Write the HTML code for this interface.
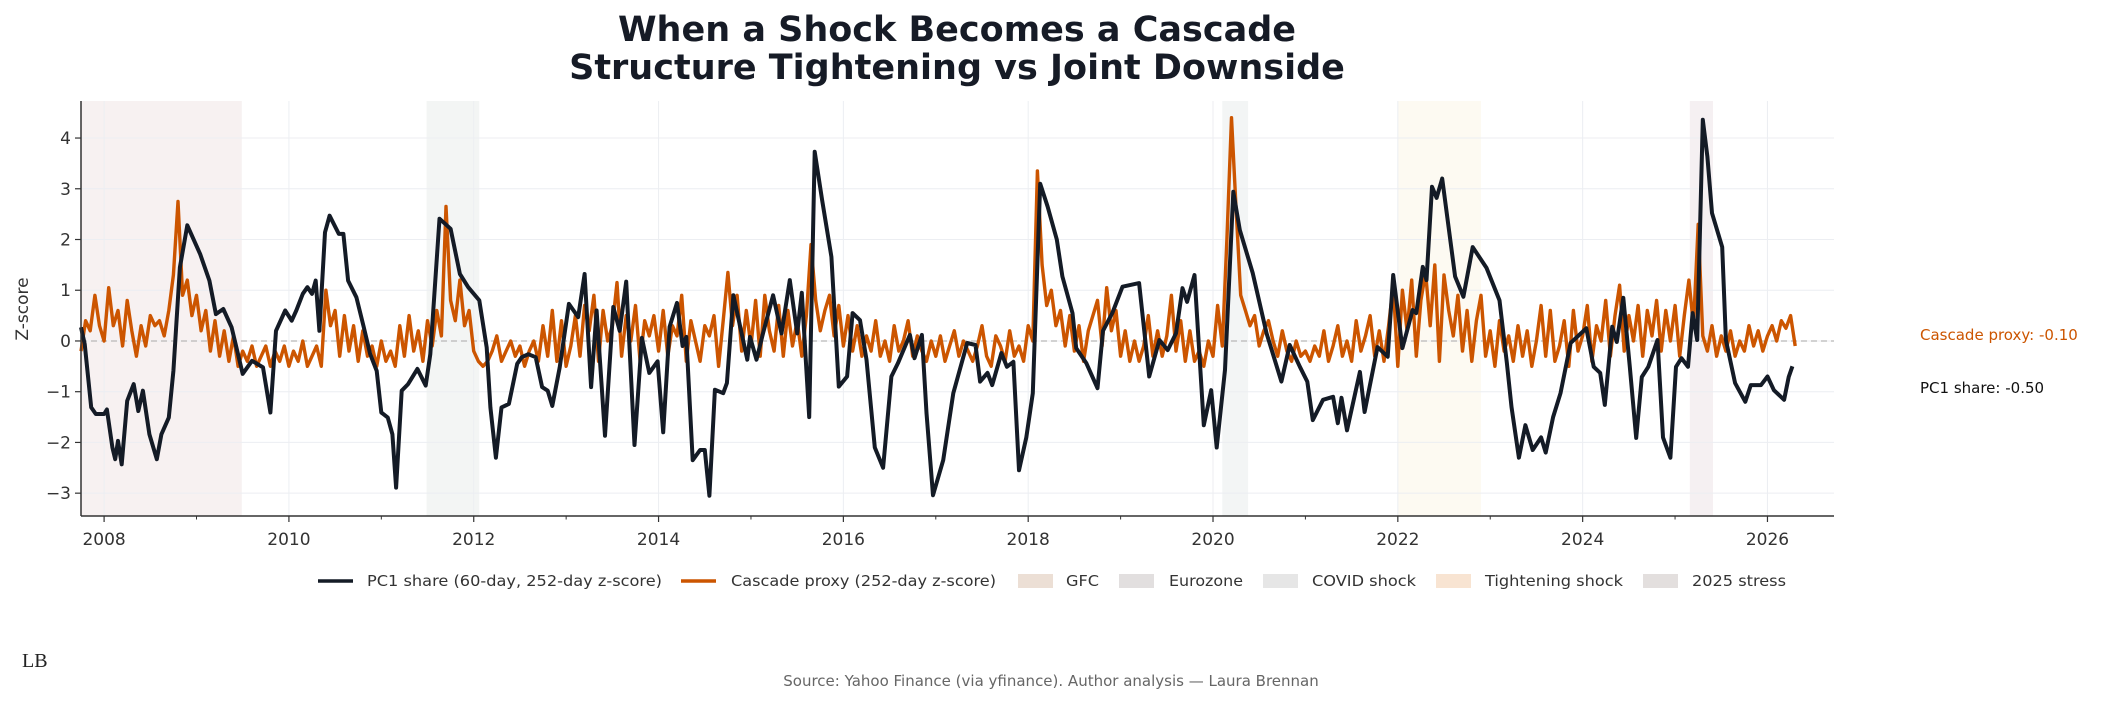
<!DOCTYPE html>
<html><head><meta charset="utf-8">
<style>
html,body{margin:0;padding:0;background:#fff;}
body{width:2103px;height:703px;overflow:hidden;font-family:"DejaVu Sans","Liberation Sans",sans-serif;}
svg text{font-family:"DejaVu Sans","Liberation Sans",sans-serif;}
</style></head>
<body>
<svg id="chart" width="2103" height="703" xmlns="http://www.w3.org/2000/svg">
<text x="957" y="41" text-anchor="middle" font-size="35" font-weight="bold" fill="#161b26">When a Shock Becomes a Cascade</text>
<text x="957" y="79" text-anchor="middle" font-size="35" font-weight="bold" fill="#161b26">Structure Tightening vs Joint Downside</text>
<g id="regions"></g>
<g id="grid"></g>
<g id="series"></g>
<g id="axes"></g>
<text transform="translate(28,309) rotate(-90)" text-anchor="middle" font-size="17" fill="#333">Z-score</text>
<text x="1920" y="340" font-size="15" fill="#cc5500">Cascade proxy: -0.10</text>
<text x="1920" y="393" font-size="15" fill="#111">PC1 share: -0.50</text>
<g id="legend"></g>
<text x="22" y="667" style="font-family:'Liberation Serif',serif;font-size:20px" fill="#222">LB</text>
<text x="1051" y="686" text-anchor="middle" font-size="15" fill="#666">Source: Yahoo Finance (via yfinance). Author analysis — Laura Brennan</text>
</svg>
<script>
const NS="http://www.w3.org/2000/svg";
// ---- data ----
const pc1Years=[2007.75,2007.79,2007.86,2007.91,2008.0,2008.03,2008.09,2008.12,2008.15,2008.19,2008.25,2008.32,2008.37,2008.42,2008.49,2008.57,2008.62,2008.7,2008.75,2008.82,2008.9,2009.04,2009.14,2009.21,2009.29,2009.38,2009.5,2009.6,2009.72,2009.8,2009.86,2009.96,2010.03,2010.08,2010.15,2010.2,2010.25,2010.29,2010.33,2010.39,2010.44,2010.54,2010.59,2010.64,2010.73,2010.81,2010.88,2010.95,2011.0,2011.07,2011.12,2011.16,2011.22,2011.29,2011.39,2011.48,2011.53,2011.63,2011.75,2011.85,2011.94,2012.06,2012.14,2012.18,2012.24,2012.3,2012.38,2012.47,2012.52,2012.59,2012.67,2012.74,2012.8,2012.85,2012.93,2013.03,2013.13,2013.2,2013.27,2013.33,2013.42,2013.51,2013.58,2013.65,2013.74,2013.82,2013.9,2013.99,2014.05,2014.12,2014.2,2014.26,2014.3,2014.37,2014.45,2014.5,2014.55,2014.61,2014.7,2014.74,2014.81,2014.96,2014.99,2015.06,2015.13,2015.24,2015.33,2015.42,2015.5,2015.55,2015.63,2015.69,2015.77,2015.87,2015.95,2016.04,2016.1,2016.18,2016.25,2016.34,2016.43,2016.52,2016.59,2016.72,2016.77,2016.85,2016.9,2016.97,2017.08,2017.19,2017.34,2017.43,2017.48,2017.56,2017.61,2017.71,2017.77,2017.84,2017.9,2017.98,2018.05,2018.13,2018.21,2018.31,2018.37,2018.48,2018.52,2018.63,2018.75,2018.81,2018.91,2019.02,2019.2,2019.31,2019.42,2019.51,2019.6,2019.67,2019.72,2019.8,2019.9,2019.98,2020.04,2020.13,2020.22,2020.29,2020.43,2020.58,2020.74,2020.83,2020.94,2021.02,2021.08,2021.19,2021.3,2021.35,2021.39,2021.45,2021.59,2021.64,2021.78,2021.89,2021.95,2022.05,2022.16,2022.2,2022.27,2022.31,2022.37,2022.42,2022.48,2022.62,2022.71,2022.81,2022.96,2023.1,2023.18,2023.23,2023.31,2023.38,2023.46,2023.55,2023.6,2023.68,2023.76,2023.87,2024.04,2024.12,2024.19,2024.24,2024.32,2024.37,2024.44,2024.51,2024.58,2024.64,2024.71,2024.81,2024.87,2024.95,2025.01,2025.07,2025.14,2025.19,2025.24,2025.3,2025.35,2025.4,2025.51,2025.55,2025.65,2025.76,2025.82,2025.93,2026.0,2026.07,2026.18,2026.23,2026.27];
const pc1Values=[0.27,-0.06,-1.31,-1.44,-1.44,-1.35,-2.1,-2.33,-1.97,-2.43,-1.18,-0.85,-1.38,-0.98,-1.84,-2.33,-1.84,-1.51,-0.59,1.45,2.28,1.71,1.19,0.53,0.63,0.27,-0.65,-0.39,-0.52,-1.41,0.2,0.6,0.4,0.6,0.93,1.06,0.93,1.19,0.2,2.14,2.47,2.11,2.11,1.19,0.86,0.27,-0.26,-0.59,-1.41,-1.51,-1.84,-2.89,-0.98,-0.85,-0.55,-0.88,-0.26,2.41,2.21,1.32,1.06,0.8,-0.13,-1.31,-2.3,-1.31,-1.24,-0.45,-0.32,-0.26,-0.32,-0.91,-0.98,-1.28,-0.52,0.73,0.47,1.32,-0.91,0.6,-1.87,0.67,0.2,1.17,-2.05,0.06,-0.63,-0.4,-1.8,0.28,0.75,-0.1,0.08,-2.35,-2.15,-2.15,-3.05,-0.96,-1.03,-0.83,0.9,-0.37,0.08,-0.37,0.15,0.9,0.15,1.2,0.15,0.95,-1.5,3.73,2.78,1.66,-0.9,-0.7,0.55,0.41,-0.37,-2.1,-2.5,-0.7,-0.44,0.12,-0.34,0.12,-1.42,-3.04,-2.35,-1.03,-0.04,-0.08,-0.8,-0.63,-0.87,-0.24,-0.51,-0.41,-2.55,-1.9,-1.03,3.1,2.65,2.0,1.27,0.55,-0.14,-0.44,-0.93,0.2,0.55,1.07,1.14,-0.7,0.02,-0.18,0.15,1.04,0.77,1.3,-1.66,-0.97,-2.1,-0.57,2.94,2.19,1.34,0.15,-0.8,-0.08,-0.51,-0.8,-1.56,-1.16,-1.1,-1.62,-1.12,-1.76,-0.61,-1.4,-0.12,-0.31,1.3,-0.14,0.61,0.55,1.46,1.2,3.04,2.82,3.2,1.27,0.87,1.85,1.44,0.8,-0.44,-1.3,-2.3,-1.66,-2.15,-1.9,-2.2,-1.5,-1.03,-0.04,0.25,-0.51,-0.63,-1.26,0.28,-0.02,0.85,-0.51,-1.91,-0.71,-0.51,0.02,-1.9,-2.3,-0.51,-0.34,-0.51,0.55,0.02,4.36,3.63,2.52,1.85,0.02,-0.83,-1.2,-0.87,-0.87,-0.7,-0.97,-1.16,-0.71,-0.5];
const cascadeStart=2007.75;
const cascadeStep=0.05;
const cascadeValues=[
-0.2,0.4,0.2,0.9,0.3,
0.0,1.05,0.3,0.6,-0.1,0.8,0.2,-0.3,0.3,-0.1,0.5,0.3,0.4,0.1,0.6,1.3,2.75,0.9,1.2,0.5,
0.9,0.2,0.6,-0.2,0.4,-0.3,0.2,-0.4,0.1,-0.5,-0.2,-0.4,-0.1,-0.5,-0.3,-0.1,-0.5,-0.2,-0.4,-0.1,
-0.5,-0.2,-0.4,0.0,-0.5,-0.3,-0.1,-0.5,1.0,0.3,0.6,-0.3,0.5,-0.2,0.3,-0.4,0.2,-0.3,-0.1,-0.5,
0.0,-0.4,-0.2,-0.5,0.3,-0.3,0.5,-0.2,0.2,-0.4,0.4,-0.1,0.6,0.1,2.65,0.8,0.4,1.2,0.3,0.6,
-0.2,-0.4,-0.5,-0.4,-0.2,0.1,-0.4,-0.2,0.0,-0.3,-0.1,-0.5,-0.2,0.0,-0.4,0.3,-0.3,0.6,-0.4,0.4,
-0.5,-0.1,0.5,-0.3,0.7,0.2,0.9,-0.4,0.6,0.0,0.3,1.15,-0.3,0.5,0.0,0.7,-0.4,0.4,0.1,0.5,
-0.2,0.6,-0.3,0.3,0.1,0.9,-0.4,0.4,0.0,-0.4,0.3,0.1,0.5,-0.5,0.4,1.35,0.3,0.9,-0.2,0.6,
-0.1,0.8,-0.3,0.9,0.2,-0.2,0.7,-0.3,0.6,-0.1,0.4,-0.3,0.5,1.9,0.8,0.2,0.6,0.9,0.1,0.7,
-0.1,0.5,-0.2,0.3,-0.3,0.1,-0.2,0.4,-0.3,0.0,-0.4,0.3,-0.2,0.0,0.4,-0.3,0.1,-0.2,-0.4,0.0,
-0.3,0.1,-0.4,-0.1,0.2,-0.3,0.0,-0.2,-0.4,-0.1,0.3,-0.3,-0.5,0.1,-0.1,-0.4,0.2,-0.3,-0.1,-0.4,
0.3,0.0,3.35,1.5,0.7,1.0,0.3,0.6,-0.1,0.5,-0.2,0.3,-0.4,0.2,0.5,0.8,-0.1,1.05,0.2,0.6,
-0.3,0.2,-0.4,0.0,-0.4,-0.1,0.5,-0.3,0.2,-0.3,0.1,0.9,-0.2,0.4,-0.4,0.2,-0.4,-0.2,-0.5,0.0,
-0.3,0.7,-0.1,2.0,4.4,2.6,0.9,0.6,0.3,0.5,-0.1,0.2,0.4,0.0,-0.3,0.2,-0.2,-0.4,0.0,-0.3,
-0.2,-0.4,-0.1,-0.3,0.2,-0.4,-0.1,0.3,-0.3,0.0,-0.4,0.4,-0.2,0.1,0.5,-0.3,0.2,-0.4,0.3,1.1,
-0.5,1.0,0.2,1.2,-0.3,0.8,1.35,0.3,1.5,-0.4,1.3,0.6,0.1,0.9,-0.2,0.6,-0.4,0.4,0.9,-0.3,
0.2,-0.5,0.4,-0.2,0.1,-0.4,0.3,-0.3,0.2,-0.5,0.0,0.7,-0.3,0.6,-0.4,-0.1,0.4,-0.5,0.6,-0.2,
0.1,0.7,-0.4,0.3,0.0,0.8,-0.3,0.5,1.1,-0.2,0.5,0.0,0.7,-0.3,0.6,0.1,0.8,-0.2,0.6,0.0,
0.7,-0.3,0.5,1.2,0.3,2.3,0.1,-0.2,0.3,-0.3,0.1,-0.2,0.2,-0.3,0.0,-0.2,0.3,-0.1,0.2,-0.2,
0.1,0.3,0.0,0.4,0.25,0.5,-0.1];
const regionNames=["GFC","Eurozone","COVID shock","Tightening shock","2025 stress"];
const regionStarts=[2007.75,2011.49,2020.1,2022.0,2025.16];
const regionEnds=[2009.49,2012.06,2020.38,2022.9,2025.41];
const regionFill=["#f7f1f1","#f3f5f4","#f3f5f5","#fdfaf2","#f5f0f2"];
const regionLegendFill=["#ecdfd5","#e2dfdf","#e6e6e6","#f8e4d2","#e3dfde"];
const yTicks=[-3,-2,-1,0,1,2,3,4];
const xTicks=[2008,2010,2012,2014,2016,2018,2020,2022,2024,2026];
const xMinorTicks=[2009,2011,2013,2015,2017,2019,2021,2023,2025];
// ---- axes ----
const L=81,R=1834,T=101,B=516;
const xMin=2007.75,xMax=2026.72,yMin=-3.45,yMax=4.73;
const X=v=>L+(v-xMin)/(xMax-xMin)*(R-L);
const Y=v=>B-(v-yMin)/(yMax-yMin)*(B-T);
function mk(tag,attrs,parent){const e=document.createElementNS(NS,tag);for(const k in attrs)e.setAttribute(k,attrs[k]);parent.appendChild(e);return e;}
const gReg=document.getElementById('regions'),gGrid=document.getElementById('grid'),gS=document.getElementById('series'),gAx=document.getElementById('axes'),gLeg=document.getElementById('legend');
regionNames.forEach((n,i)=>{
 const r=mk('rect',{x:X(regionStarts[i]),y:T,width:X(regionEnds[i])-X(regionStarts[i]),height:B-T,fill:regionFill[i]},gReg);
 
 
});
yTicks.forEach(t=>{
 const l=mk('line',{x1:L,x2:R,y1:Y(t),y2:Y(t),stroke:'#eceef2','stroke-width':1},gGrid);
 
 
 const tk=mk('line',{x1:L-6,x2:L,y1:Y(t),y2:Y(t),stroke:'#333','stroke-width':1.2},gAx);
 
 
 const tx=mk('text',{x:L-10,y:Y(t)+6,'text-anchor':'end','font-size':17,fill:'#333'},gAx);
 tx.textContent=(t<0?'\u2212'+(-t):String(t));
 
 
});
xTicks.forEach(t=>{
 const l=mk('line',{x1:X(t),x2:X(t),y1:T,y2:B,stroke:'#eceef2','stroke-width':1},gGrid);
 
 
 const tk=mk('line',{x1:X(t),x2:X(t),y1:B,y2:B+6,stroke:'#333','stroke-width':1.2},gAx);
 
 
 const tx=mk('text',{x:X(t),y:B+29,'text-anchor':'middle','font-size':17,fill:'#333'},gAx);
 tx.textContent=String(t);
 
 
});
xMinorTicks.forEach(t=>{
 const tk=mk('line',{x1:X(t),x2:X(t),y1:B,y2:B+3.5,stroke:'#333','stroke-width':1},gAx);
 
 
});
const zl=mk('line',{x1:L,x2:R,y1:Y(0),y2:Y(0),stroke:'#b8b8b8','stroke-width':1.3,'stroke-dasharray':'6,4'},gGrid);


// series
let d='';cascadeValues.forEach((v,i)=>{d+=(i?'L':'M')+X(cascadeStart+i*cascadeStep).toFixed(1)+','+Y(v).toFixed(1);});
const cp=mk('path',{d:d,fill:'none',stroke:'#cc5500','stroke-width':3.4,'stroke-linejoin':'round'},gS);


d='';pc1Years.forEach((yr,i)=>{d+=(i?'L':'M')+X(yr).toFixed(1)+','+Y(pc1Values[i]).toFixed(1);});
const pp=mk('path',{d:d,fill:'none',stroke:'#141b26','stroke-width':4,'stroke-linejoin':'round'},gS);


// spines
const sl=mk('line',{x1:L,x2:L,y1:T,y2:B,stroke:'#333','stroke-width':1.5},gAx);


const sb=mk('line',{x1:L,x2:R,y1:B,y2:B,stroke:'#333','stroke-width':1.5},gAx);


// legend
const LY=581;
const legendItems=[
 {kind:'line',color:'#141b26',label:'PC1 share (60-day, 252-day z-score)',x:318,tx:367,w:295},
 {kind:'line',color:'#cc5500',label:'Cascade proxy (252-day z-score)',x:681,tx:731,w:265},
 {kind:'patch',color:regionLegendFill[0],label:regionNames[0],x:1018,tx:1066,w:33},
 {kind:'patch',color:regionLegendFill[1],label:regionNames[1],x:1119,tx:1169,w:74},
 {kind:'patch',color:regionLegendFill[2],label:regionNames[2],x:1263,tx:1312,w:104},
 {kind:'patch',color:regionLegendFill[3],label:regionNames[3],x:1436,tx:1485,w:138},
 {kind:'patch',color:regionLegendFill[4],label:regionNames[4],x:1643,tx:1692,w:94}];
legendItems.forEach(it=>{
 let m;
 if(it.kind==='line'){m=mk('line',{x1:it.x,x2:it.x+35,y1:LY,y2:LY,stroke:it.color,'stroke-width':3.5},gLeg);}
 else{m=mk('rect',{x:it.x,y:LY-7,width:35,height:14,fill:it.color},gLeg);}
 
 
});
legendItems.forEach(it=>{
 const t=mk('text',{x:it.tx,y:LY+5,'font-size':15,fill:'#333',textLength:it.w,lengthAdjust:'spacingAndGlyphs'},gLeg);
 t.textContent=it.label;
 
 
});
</script>
</body></html>
